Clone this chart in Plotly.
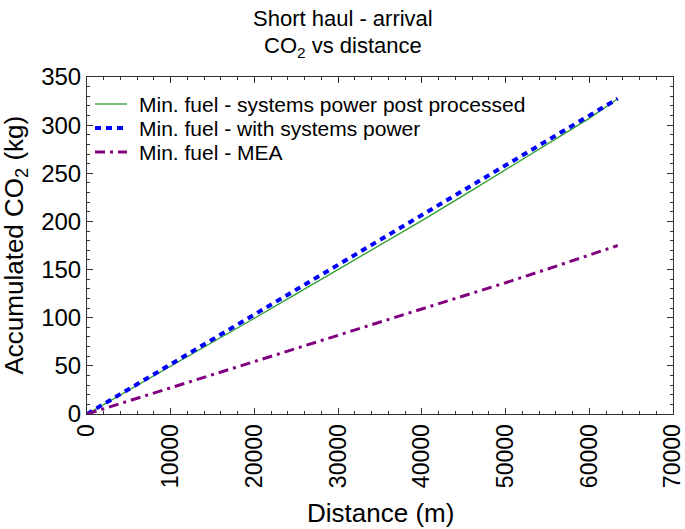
import plotly.graph_objects as go

# Distances (m)
distance = [0, 5000, 10000, 15000, 20000, 25000, 30000, 35000, 40000, 45000, 50000, 55000, 60000, 63400]

# Accumulated CO2 (kg)
co2_post_processed = [0, 24.7, 49.6, 74.5, 99.5, 124.7, 150.0, 175.3, 200.8, 227.0, 253.5, 280.0, 307.0, 327.5]
co2_with_systems = [0, 25.9, 51.7, 77.5, 103.4, 129.2, 155.0, 180.8, 206.6, 232.5, 258.4, 284.3, 310.2, 327.5]
co2_mea = [0, 13.6, 27.2, 40.8, 54.5, 68.0, 81.5, 95.0, 108.5, 122.3, 136.3, 150.5, 164.8, 175.0]

series_names = [
    "Min. fuel - systems power post processed",
    "Min. fuel - with systems power",
    "Min. fuel - MEA",
]

x_tickvals = [0, 10000, 20000, 30000, 40000, 50000, 60000, 70000]
y_tickvals = [0, 50, 100, 150, 200, 250, 300, 350]

FONT = "Liberation Sans, Arial, sans-serif"
W, H = 685, 529
ML, MR, MT, MB = 87, 12, 77, 115
PW, PH = W - ML - MR, H - MT - MB


def px_x(X):
    return (X - ML) / PW


def px_y(Y):
    return (H - MB - Y) / PH


styles = [
    dict(color="#2ca02c", width=1.3, dash="solid"),
    dict(color="#0000ff", width=4, dash="6px,5px"),
    dict(color="#800080", width=3, dash="10px,5px,3px,5px"),
]
series = [co2_post_processed, co2_with_systems, co2_mea]

fig = go.Figure()
for name, ys, st in zip(series_names, series, styles):
    fig.add_trace(go.Scatter(x=distance, y=ys, mode="lines", name=name, showlegend=False,
                             line=dict(color=st["color"], width=st["width"], dash=st["dash"])))

axis_common = dict(
    showgrid=False, zeroline=False, showline=True, linecolor="#333333", linewidth=1,
    mirror="allticks", ticks="inside", ticklen=6, tickcolor="#333333", automargin=False,
    ticklabeloverflow="allow",
)

fig.update_xaxes(
    range=[0, 70000], tickvals=x_tickvals, ticktext=[str(v) for v in x_tickvals],
    tickangle=-90, tickfont=dict(family=FONT, size=23, color="black"),
    minor=dict(ticks="inside", dtick=2000, ticklen=3, tickcolor="#333333"),
    **axis_common,
)
fig.update_yaxes(
    range=[0, 350], tickvals=y_tickvals, ticktext=[str(v) for v in y_tickvals],
    tickfont=dict(family=FONT, size=24, color="black"),
    minor=dict(ticks="inside", dtick=10, ticklen=3, tickcolor="#333333"),
    **axis_common,
)

annotations = [
    dict(text="Short haul - arrival", xref="paper", yref="paper",
         x=px_x(342.5), y=px_y(18), xanchor="center", yanchor="middle", showarrow=False,
         font=dict(family=FONT, size=22, color="black")),
    dict(text="CO<sub>2</sub> vs distance", xref="paper", yref="paper",
         x=px_x(342.5), y=px_y(47), xanchor="center", yanchor="middle", showarrow=False,
         font=dict(family=FONT, size=22, color="black")),
    dict(text="Distance (m)", xref="paper", yref="paper",
         x=0.5, y=px_y(513), xanchor="center", yanchor="middle", showarrow=False,
         font=dict(family=FONT, size=26, color="black")),
    dict(text="Accumulated CO<sub>2</sub> (kg)", xref="paper", yref="paper", textangle=-90,
         x=px_x(15), y=0.5, xanchor="center", yanchor="middle", showarrow=False,
         font=dict(family=FONT, size=26, color="black")),
]

shapes = []
legend_rows = [104, 128, 152]
for name, st, row in zip(series_names, styles, legend_rows):
    shapes.append(dict(type="line", xref="paper", yref="paper",
                       x0=px_x(95), x1=px_x(127), y0=px_y(row), y1=px_y(row),
                       line=dict(color=st["color"], width=st["width"], dash=st["dash"])))
    annotations.append(dict(text=name, xref="paper", yref="paper", x=px_x(137), y=px_y(row),
                            xanchor="left", yanchor="middle", showarrow=False,
                            font=dict(family=FONT, size=21, color="black")))

fig.update_layout(
    width=W, height=H,
    margin=dict(l=ML, r=MR, t=MT, b=MB),
    paper_bgcolor="white", plot_bgcolor="white",
    showlegend=False,
    annotations=annotations,
    shapes=shapes,
)

fig.write_html("out.html", config={"displayModeBar": False},
               post_script="document.body.style.margin='0';")
